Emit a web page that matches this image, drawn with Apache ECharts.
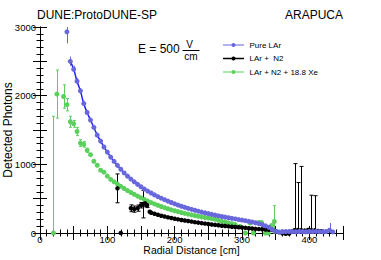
<!DOCTYPE html>
<html><head><meta charset="utf-8">
<script src="https://cdn.jsdelivr.net/npm/echarts@6/dist/echarts.min.js"></script>
<style>html,body{margin:0;padding:0;background:#fff}#c{width:381px;height:260px}</style>
</head><body><div id="c"></div>
<script>
// ---- data ----
const blueX = [40,45,50,55,60,65,70,75,80,85,90,95,100,105,110,115,120,125,130,135,140,145,150,155,160,165,170,175,180,185,190,195,200,205,210,215,220,225,230,235,240,245,250,255,260,265,270,275,280,285,290,295,300,305,310,315,320,325,330,335,340,345,350,355,360,365,370,375,380,385,390,395,400,405,410,415,420,425,430,435];
const blueY = [2930,2500,2385,2210,2070,1885,1755,1645,1537,1425,1338,1252,1178,1105,1043,985,928,875,828,785,745,708,673,640,610,582,555,530,507,485,464,444,425,407,390,374,359,345,331,318,305,293,282,271,260,250,240,231,222,213,205,196,188,179,170,160,149,137,122,104,82,52,24,14,18,20,22,20,18,22,20,18,22,20,24,20,18,22,40,16];
const blueErr = [170,70,50,45,40,35,30,30,25,25,20,20,20,20,20,15,15,15,15,15,15,15,15,15,15,15,15,15,15,15,15,15,15,15,15,15,15,15,15,15,15,15,15,15,15,15,15,15,15,15,15,15,15,15,15,15,15,15,15,15,15,15,15,15,15,15,15,15,15,15,15,15,15,15,15,15,15,15,105,15];

const blackX = [115,120,135,140,145,150,153,156,159,163,165,170,175,180,185,190,195,200,205,210,215,220,225,230,235,240,245,250,255,260,265,270,275,280,285,290,295,300,305,310,315,320,325,330,335,340,345,350,355,360,365,370,375,378,383,388,393,398,403,408,413,418];
const blackY = [650,0,360,348,362,405,420,432,405,310,295,280,266,252,240,228,218,208,199,190,182,174,166,158,151,144,137,130,124,118,112,106,101,96,92,88,84,80,75,70,65,60,57,54,51,48,44,30,12,-5,-10,-8,25,40,45,40,35,45,40,38,30,25];
const blackErr = [210,0,50,45,45,40,200,50,35,0,0,0,0,0,0,0,0,0,0,0,0,0,0,0,0,0,0,0,0,0,0,0,0,0,0,0,0,0,0,0,0,0,0,0,0,0,0,0,0,0,0,0,0,970,690,930,0,0,510,505,0,0];

const greenX = [20,25,35,40,45,50,55,60,65,70,75,80,85,90,95,100,105,110,115,120,125,130,135,140,145,150,155,160,165,170,175,180,185,190,195,200,205,210,215,220,225,230,235,240,245,250,255,260,265,270,275,280,285,290,297,305,312,317,325,329,335,339,344,348];
const greenY = [0,2023,1988,1869,1620,1590,1478,1309,1290,1204,1141,1045,987,915,886,828,780,745,712,680,648,618,590,563,537,512,488,465,443,423,404,386,369,353,338,324,311,298,286,275,264,254,244,235,226,218,210,200,185,170,158,146,135,122,96,0,145,0,153,153,0,0,110,168];
const greenErr = [1700,350,170,90,80,50,60,50,40,30,0,0,0,0,0,0,0,0,0,0,0,0,0,0,0,0,0,0,0,0,0,0,0,0,0,0,0,0,0,0,0,0,0,0,0,0,0,0,0,0,0,0,0,0,0,0,0,0,0,0,0,0,0,230];

const xTickLabels = [0,100,200,300,400];
const yTickLabels = [0,1000,2000,3000];
const legendNames = ['Pure LAr','LAr +  N2','LAr + N2 + 18.8 Xe'];

// ---- chart ----
const FONT = '"Liberation Sans", Arial, sans-serif';
const YMAX = 3000, YMIN = 0;
const pts = (xs, ys) => xs.map((x, i) => [x, ys[i]]);
function errSeries(xs, ys, es, color, cap) {
  const d = [];
  xs.forEach((x, i) => { if (es[i] > 0) d.push([x, Math.max(YMIN, ys[i] - es[i]), Math.min(YMAX, ys[i] + es[i])]); });
  return {
    type: 'custom', xAxisIndex: 0, yAxisIndex: 0, data: d, silent: true, z: 3,
    renderItem: (p, api) => {
      const a = api.coord([api.value(0), api.value(1)]);
      const b = api.coord([api.value(0), api.value(2)]);
      const x = Math.round(a[0]) + 0.5;
      const st = { stroke: color, lineWidth: 1 };
      const ch = [{ type: 'line', shape: { x1: x, y1: a[1], x2: x, y2: b[1] }, style: st }];
      if (cap > 0) {
        ch.push({ type: 'line', shape: { x1: x - cap, y1: b[1], x2: x + cap, y2: b[1] }, style: st });
        ch.push({ type: 'line', shape: { x1: x - cap, y1: a[1], x2: x + cap, y2: a[1] }, style: st });
      }
      return { type: 'group', children: ch };
    }
  };
}
const BLUE = '#6868dc', GREEN = '#5cd05c', BLACK = '#000000';
const chart = echarts.init(document.getElementById('c'), null, { renderer: 'svg' });
const baseX = {
  type: 'value', min: 0, max: 450, interval: 50,
  axisLine: { show: true, lineStyle: { color: '#000', width: 1 } },
  axisTick: { show: true, inside: true, length: 7, lineStyle: { color: '#000' } },
  minorTick: { show: true, splitNumber: 5, length: 3.5, lineStyle: { color: '#000' } },
  splitLine: { show: false }
};
const baseY = {
  type: 'value', min: YMIN, max: YMAX, interval: 500,
  axisLine: { show: true, lineStyle: { color: '#000', width: 1 } },
  axisTick: { show: true, inside: true, length: 7, lineStyle: { color: '#000' } },
  minorTick: { show: true, splitNumber: 5, length: 3.5, lineStyle: { color: '#000' } },
  splitLine: { show: false }
};
const legendColors = [[ '#9898ec', BLUE ], [ '#000', '#000' ], [ '#8fe08f', GREEN ]];
const legendY = [45, 58.5, 72];
const graphics = [
  { type: 'text', left: 37, top: 9, style: { text: 'DUNE:ProtoDUNE-SP', font: '12px ' + FONT, fill: '#000' } },
  { type: 'text', right: 38, top: 9, style: { text: 'ARAPUCA', font: '12px ' + FONT, fill: '#000' } },
  { type: 'text', x: 138, y: 48.5, style: { text: 'E = 500', font: '12px ' + FONT, fill: '#000', verticalAlign: 'middle' } },
  { type: 'text', x: 189.5, y: 44.5, style: { text: 'V', font: '10px ' + FONT, fill: '#000', align: 'center', verticalAlign: 'middle' } },
  { type: 'line', shape: { x1: 182.5, y1: 50.5, x2: 199.5, y2: 50.5 }, style: { stroke: '#000', lineWidth: 1 } },
  { type: 'text', x: 191, y: 56, style: { text: 'cm', font: '10px ' + FONT, fill: '#000', align: 'center', verticalAlign: 'middle' } }
];
legendNames.forEach((n, i) => {
  const y = legendY[i];
  graphics.push({ type: 'line', shape: { x1: 223, y1: y, x2: 244, y2: y }, style: { stroke: legendColors[i][0], lineWidth: 1.5 } });
  graphics.push({ type: 'circle', shape: { cx: 233.5, cy: y, r: 2 }, style: { fill: legendColors[i][1] } });
  graphics.push({ type: 'text', x: 249.5, y: y, style: { text: n, font: '8px ' + FONT, fill: '#000', verticalAlign: 'middle' } });
});

chart.setOption({
  animation: false,
  backgroundColor: '#fff',
  grid: { left: 40, right: 38, top: 27, bottom: 27, containLabel: false, outerBoundsMode: 'none' },
  xAxis: [
    Object.assign({}, baseX, {
      position: 'bottom',
      name: 'Radial Distance [cm]', nameLocation: 'middle', nameGap: 11.5, nameMoveOverlap: false,
      nameTextStyle: { fontFamily: FONT, fontSize: 10.5, color: '#000' },
      axisLabel: { show: true, margin: 1.5, fontFamily: FONT, fontSize: 9.5, color: '#000',
        formatter: v => xTickLabels.indexOf(v) >= 0 ? String(v) : '' }
    }),
    Object.assign({}, baseX, { position: 'top', axisLabel: { show: false } })
  ],
  yAxis: [
    Object.assign({}, baseY, {
      position: 'left',
      name: 'Detected Photons', nameLocation: 'middle', nameGap: 26, nameMoveOverlap: false,
      nameTextStyle: { fontFamily: FONT, fontSize: 12, color: '#000' },
      axisLabel: { show: true, margin: 4, fontFamily: FONT, fontSize: 9.5, color: '#000',
        formatter: v => yTickLabels.indexOf(v) >= 0 ? String(v) : '' }
    }),
    Object.assign({}, baseY, { position: 'right', axisLabel: { show: false } })
  ],
  graphic: graphics,
  series: [
    errSeries(greenX, greenY, greenErr, GREEN, 1.5),
    { type: 'scatter', data: pts(greenX, greenY), symbolSize: 5, clip: false, itemStyle: { color: GREEN, opacity: 1 }, z: 4, silent: true },
    errSeries(blackX, blackY, blackErr, BLACK, 2),
    { type: 'scatter', data: pts(blackX, blackY), symbolSize: 4.5, clip: false, itemStyle: { color: BLACK, opacity: 1 }, z: 5, silent: true },
    { type: 'line', data: pts(blueX, blueY).slice(1, 62), smooth: true, showSymbol: false, lineStyle: { color: '#1f1fff', width: 1.5 }, z: 5, silent: true },
    errSeries(blueX, blueY, blueErr, BLUE, 0),
    { type: 'scatter', data: pts(blueX, blueY), symbolSize: 5, clip: false, itemStyle: { color: BLUE, opacity: 1 }, z: 6, silent: true }
  ]
});
</script></body></html>
